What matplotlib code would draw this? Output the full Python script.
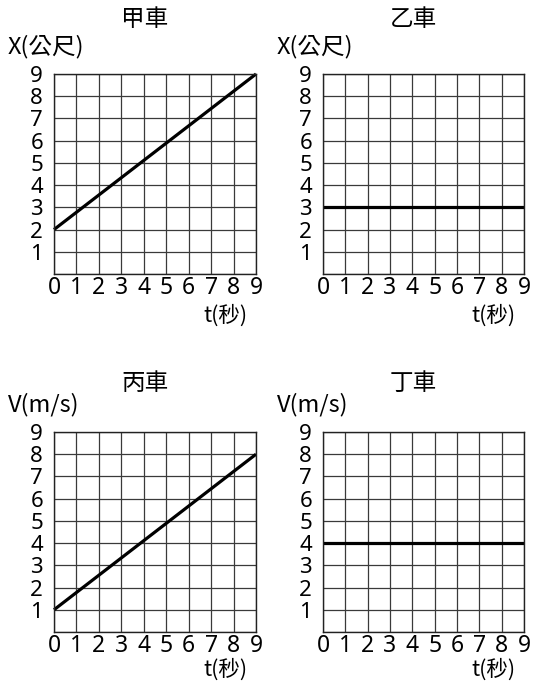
import matplotlib
matplotlib.use('Agg')
import matplotlib.pyplot as plt

W, H = 534, 683

titles = ['甲車', '乙車', '丙車', '丁車']
ylabels = ['X(公尺)', 'X(公尺)', 'V(m/s)', 'V(m/s)']
xlabel = 't(秒)'
t = [0, 9]
jia = [2, 9]
yi = [3, 3]
bing = [1, 8]
ding = [4, 4]
series = [jia, yi, bing, ding]
xticks = list(range(10))
yticks = list(range(10))
ytick_labels = [''] + [str(i) for i in range(1, 10)]

# panel boxes in pixels: left, top, right, bottom
boxes = [(54, 74, 256, 274), (323, 74, 524, 274),
         (54, 432, 256, 632), (323, 432, 524, 632)]

TICK_FONT = ['Noto Sans']
CJK_FONT = ['Noto Sans CJK TC']

def px(x, y):
    return x / W, 1 - y / H

fig = plt.figure(figsize=(W / 100, H / 100), dpi=100)

for i, (l, tp, r, b) in enumerate(boxes):
    x0, y1 = px(l, tp)
    x1, y0 = px(r, b)
    ax = fig.add_axes([x0, y0, x1 - x0, y1 - y0])
    ax.set_xlim(0, 9)
    ax.set_ylim(0, 9)
    ax.set_xticks(xticks)
    ax.set_yticks(yticks)
    ax.set_xticklabels([str(v) for v in xticks], family=TICK_FONT, fontsize=16.5)
    ax.set_yticklabels(ytick_labels, family=TICK_FONT, fontsize=16)
    ax.tick_params(length=0)
    ax.tick_params(axis='y', pad=8)
    ax.tick_params(axis='x', pad=1.5)
    ax.grid(True, color='#3a3a3a', linewidth=0.9)
    ax.set_axisbelow(True)
    for s in ax.spines.values():
        s.set_linewidth(1.0)
        s.set_color('#222222')
    ax.plot(t, series[i], color='black', linewidth=2.3, solid_capstyle='butt', clip_on=False)

    row_top = 54 if i < 2 else 49
    fig.text(*px((l + r) / 2 - 10, tp - row_top), titles[i], ha='center', va='center',
             fontsize=17, family=CJK_FONT)
    fig.text(*px(l - 46, tp - 27), ylabels[i], ha='left', va='center',
             fontsize=17, family=CJK_FONT)
    xl_off = 42 if i < 2 else 38
    fig.text(*px(r - 8, b + xl_off), xlabel, ha='right', va='center',
             fontsize=15.5, family=CJK_FONT)

fig.savefig('out.png', dpi=100, facecolor='white')
